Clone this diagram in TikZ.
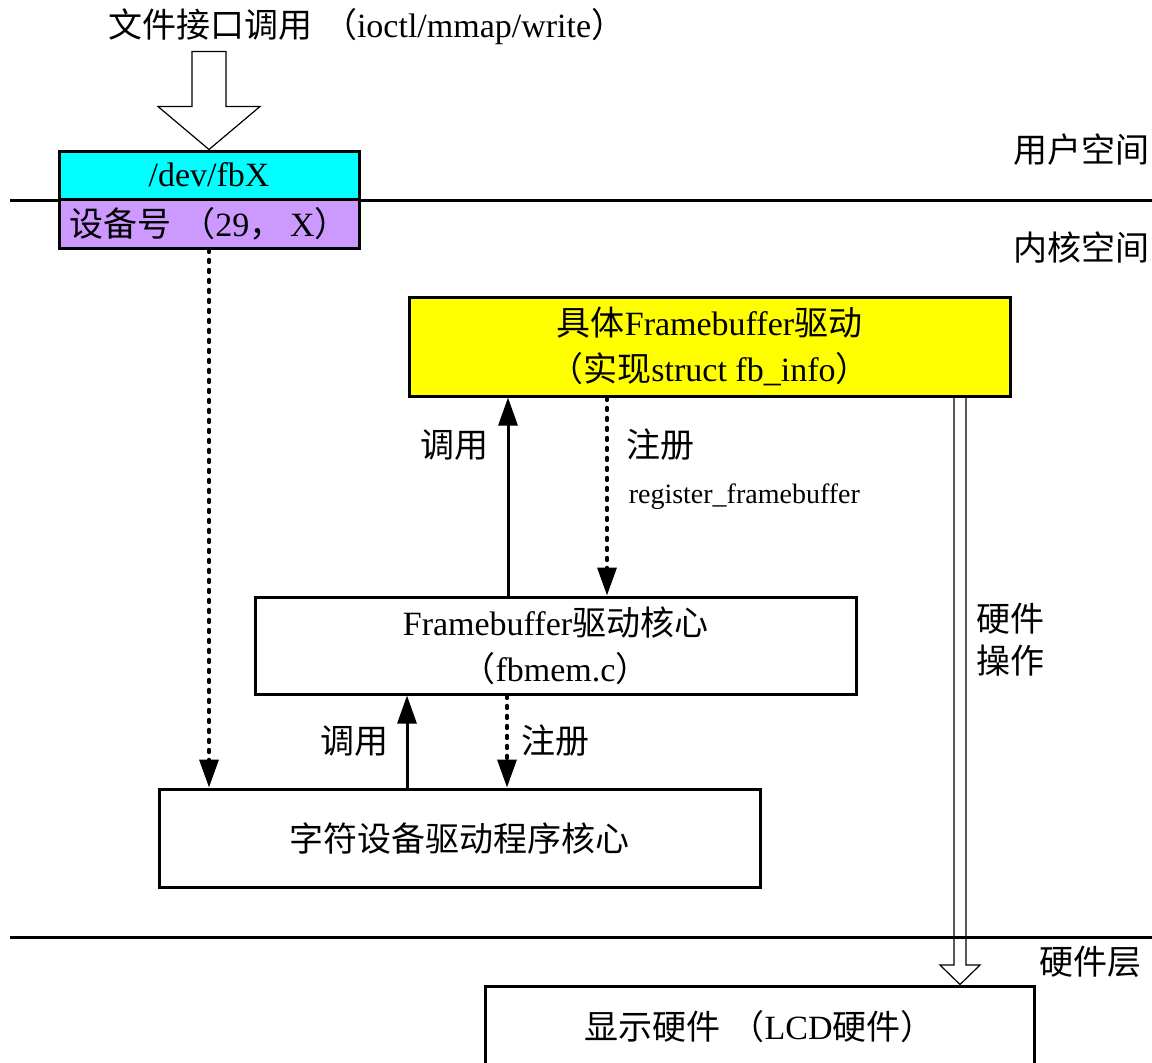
\documentclass[tikz,border=0pt]{standalone}
\usepackage{fontspec}
\setmainfont{Liberation Serif}
\newfontfamily\cjk{Noto Sans CJK SC}
\usepackage{xcolor}
\usetikzlibrary{
  arrows.meta,
  positioning
}
\newcommand{\cn}[1]{{\cjk #1}}
\definecolor{devcyan}{HTML}{00FFFF}
\definecolor{devpurple}{HTML}{CC99FF}
\definecolor{drvyellow}{HTML}{FFFF00}
\tikzset{
  box/.style={
    draw,
    line width=1.5pt,
    align=center},
  layer/.style={
    line width=1.5pt},
  lbl/.style={
    inner sep=0pt},
  call/.style={
    -{Triangle[width=9.5pt,length=14pt]},
    line width=1.5pt},
  reg/.style={
    -{Triangle[width=9.5pt,length=14pt]},
    line width=1.75pt,
    dash pattern=on 1.4pt off 3.6pt,
    line cap=round},
  hollow/.style={
    draw,
    line width=0.6pt}
  }

\begin{document}
\begin{tikzpicture}[x=0.5pt, y=-0.5pt, font=\fontsize{17}{23}\selectfont]
  \useasboundingbox (0,0) rectangle (1152,1062);
  \clip (0,0) rectangle (1152,1062);
  % layers
  \draw [layer] (10,200) -- (1152,200);
  \draw [layer] (10,937) -- (1152,937);
  \node [lbl, anchor=east] (user) at (1150,150) {\cn{用户空间}};
  \node [lbl, anchor=east] (kernel) at (1150,248) {\cn{内核空间}};
  \node [lbl, anchor=east] (hwlayer) at (1142,962) {\cn{硬件层}};
  % boxes
  \node [lbl] (api) at (367,27) {\cn{文件接口调用\hspace{0.3em}（}ioctl/mmap/write\cn{）}};
  \node [box, fill=devcyan, minimum width=150pt, minimum height=24pt] (dev) at (209,175) {/dev/fbX};
  \node [box, fill=devpurple, minimum width=150pt, minimum height=24.5pt] (num) at (209,223.5) {\cn{设备号\hspace{0.3em}（}29\cn{，\hspace{0.2em}}X\cn{）}};
  \node [box, fill=drvyellow, minimum width=300.5pt, minimum height=49.5pt] (fbdrv) at (709.5,346.5)
    {\cn{具体}Framebuffer\cn{驱动}\\\cn{（实现}struct fb\_info\cn{）}};
  \node [box, minimum width=300.5pt, minimum height=48.5pt] (fbcore) at (555.5,645.5)
    {Framebuffer\cn{驱动核心}\\\cn{（}fbmem.c\cn{）}};
  \node [box, minimum width=300.5pt, minimum height=49pt] (chrcore) at (459.5,838) {\cn{字符设备驱动程序核心}};
  \node [box, minimum width=274.5pt, minimum height=41pt] (lcd) at (759.5,1027) {\cn{显示硬件\hspace{0.3em}（}LCD\cn{硬件）}};
  % file interface
  \draw [hollow] (dev.north) -- ++(-51,-43) -- ++(34,0) -- ++(0,-55) -- ++(34,0)
    -- ++(0,55) -- ++(34,0) -- cycle;
  % calls and registration
  \draw [reg] (num.south) -- (num.south |- chrcore.north);
  \draw [call] (fbcore.north -| 508,0) -- node[lbl, pos=0.76, left=9pt]{\cn{调用}} (fbdrv.south -| 508,0);
  \draw [reg] (fbdrv.south -| 607,0) -- node[lbl, pos=0.24, right=9pt]{\cn{注册}}
    node[lbl, pos=0.5, right=10pt, font=\fontsize{14}{16}\selectfont]{register\_framebuffer} (fbcore.north -| 607,0);
  \draw [call] (chrcore.north -| 407,0) -- node[lbl, pos=0.51, left=8.5pt]{\cn{调用}} (fbcore.south -| 407,0);
  \draw [reg] (fbcore.south -| 507,0) -- node[lbl, pos=0.49, right=6.5pt]{\cn{注册}} (chrcore.north -| 507,0);
  % hardware access
  \draw [hollow] (fbdrv.south -| 954,0) -- (954,965) -- (940,965) -- (lcd.north -| 960,0)
    -- (980,965) -- (966,965) -- (fbdrv.south -| 966,0);
  \node [lbl, anchor=west, align=left, font=\fontsize{17}{21}\selectfont] (hwop) at (976,640) {\cn{硬件}\\\cn{操作}};
\end{tikzpicture}
\end{document}
